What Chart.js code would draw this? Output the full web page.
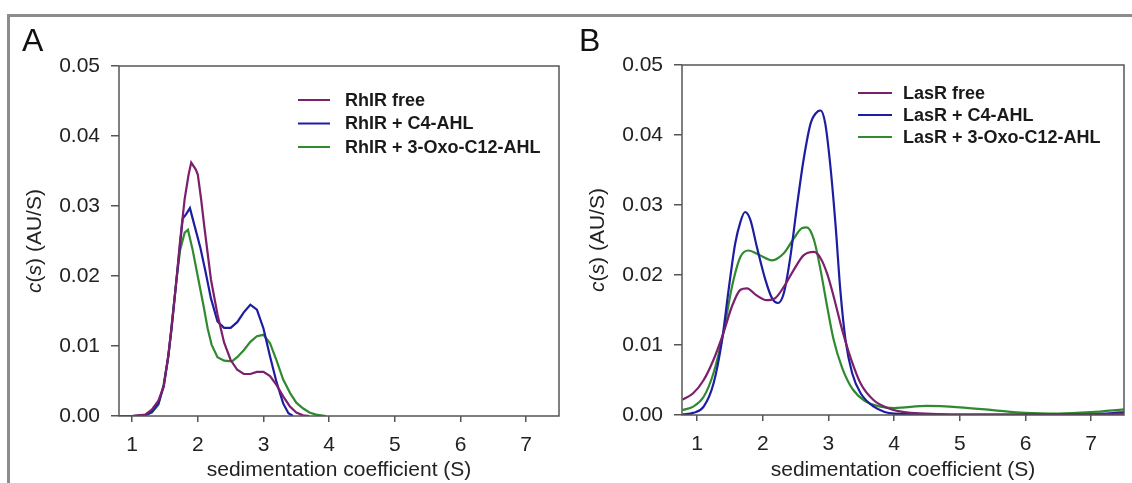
<!DOCTYPE html>
<html>
<head>
<meta charset="utf-8">
<script src="https://cdn.jsdelivr.net/npm/chart.js@4.4.1/dist/chart.umd.min.js"></script>
<style>
  html, body { margin: 0; padding: 0; background: #fff; }
  #wrap { position: relative; width: 1132px; height: 483px; overflow: hidden; background: #fff; }
  #frame { position: absolute; left: 7px; top: 14px; width: 1130px; height: 480px;
           border-top: 3px solid #8c8c8c; border-left: 3px solid #8c8c8c; }
  .panel { position: absolute; top: 0; }
  .tag { position: absolute; top: 24px; font: 32px 'Liberation Sans', Arial, sans-serif; line-height: 32px; color: #111; }
</style>
</head>
<body>
<div id="wrap">
  <div id="frame"></div>
  <canvas id="chartA" class="panel" width="566" height="483" style="left:0px"></canvas>
  <canvas id="chartB" class="panel" width="566" height="483" style="left:566px"></canvas>
  <div class="tag" style="left:22px">A</div>
  <div class="tag" style="left:579px">B</div>
</div>
<script>
// tick labels
const xTickLabels = ['1', '2', '3', '4', '5', '6', '7'];
const yTickLabels = ['0.00', '0.01', '0.02', '0.03', '0.04', '0.05'];
const xTitle = 'sedimentation coefficient (S)';

// panel A: RhIR
const labelsA = ['RhIR free', 'RhIR + C4-AHL', 'RhIR + 3-Oxo-C12-AHL'];
const rhlFreeX = [0.8, 1.0, 1.2, 1.3, 1.4, 1.48, 1.55, 1.6, 1.67, 1.73, 1.8, 1.86, 1.9, 1.97, 2.0, 2.05, 2.1, 2.2, 2.3, 2.4, 2.5, 2.6, 2.7, 2.8, 2.9, 3.0, 3.1, 3.2, 3.3, 3.4, 3.5, 3.6, 3.7];
const rhlFreeY = [0, 0, 0.0002, 0.0009, 0.0022, 0.0042, 0.0085, 0.0128, 0.019, 0.025, 0.031, 0.0345, 0.0362, 0.0352, 0.0345, 0.031, 0.027, 0.0195, 0.0145, 0.0105, 0.008, 0.0066, 0.006, 0.006, 0.0063, 0.0063, 0.0057, 0.0044, 0.0028, 0.0014, 0.0005, 0.0001, 0];
const rhlC4X = [0.8, 1.0, 1.2, 1.3, 1.4, 1.48, 1.55, 1.6, 1.67, 1.73, 1.77, 1.82, 1.88, 1.95, 2.04, 2.12, 2.2, 2.3, 2.4, 2.5, 2.6, 2.7, 2.8, 2.9, 3.0, 3.1, 3.2, 3.3, 3.38, 3.45];
const rhlC4Y = [0, 0, 0.0001, 0.0006, 0.0018, 0.0042, 0.0085, 0.0125, 0.019, 0.0245, 0.0282, 0.0288, 0.0297, 0.0272, 0.024, 0.0205, 0.0168, 0.0135, 0.0126, 0.0126, 0.0134, 0.0148, 0.0159, 0.0152, 0.0125, 0.0085, 0.0048, 0.0018, 0.0004, 0];
const rhlOxoX = [0.8, 1.0, 1.2, 1.3, 1.4, 1.48, 1.55, 1.6, 1.67, 1.73, 1.8, 1.85, 1.92, 1.98, 2.09, 2.15, 2.21, 2.3, 2.4, 2.52, 2.6, 2.7, 2.8, 2.9, 3.0, 3.1, 3.2, 3.3, 3.41, 3.5, 3.6, 3.7, 3.8, 3.95];
const rhlOxoY = [0, 0, 0.0001, 0.0005, 0.0016, 0.0045, 0.0085, 0.0125, 0.019, 0.0237, 0.0262, 0.0266, 0.0238, 0.0209, 0.0156, 0.0125, 0.0102, 0.0084, 0.0079, 0.0078, 0.0084, 0.0094, 0.0106, 0.0114, 0.0116, 0.0104, 0.0079, 0.0052, 0.0032, 0.0019, 0.0011, 0.0005, 0.0002, 0];

// panel B: LasR
const labelsB = ['LasR free', 'LasR + C4-AHL', 'LasR + 3-Oxo-C12-AHL'];
const lasFreeX = [0.78, 0.94, 1.1, 1.25, 1.4, 1.53, 1.66, 1.76, 1.89, 2.06, 2.19, 2.32, 2.47, 2.62, 2.78, 2.88, 2.98, 3.08, 3.21, 3.34, 3.49, 3.69, 3.9, 4.25, 5.0, 6.0, 7.0, 7.5];
const lasFreeY = [0.0022, 0.0031, 0.005, 0.0079, 0.0117, 0.0155, 0.0179, 0.0181, 0.0172, 0.0164, 0.0167, 0.0183, 0.0207, 0.0228, 0.0233, 0.0224, 0.0202, 0.0169, 0.0121, 0.0081, 0.0045, 0.0021, 0.001, 0.0003, 0.0001, 0.0001, 0.0001, 0.0002];
const lasC4X = [0.78, 0.94, 1.1, 1.25, 1.38, 1.48, 1.58, 1.66, 1.73, 1.81, 1.91, 2.04, 2.14, 2.23, 2.32, 2.42, 2.52, 2.62, 2.73, 2.84, 2.88, 2.95, 3.03, 3.11, 3.18, 3.26, 3.36, 3.49, 3.69, 4.0, 5.0, 6.0, 7.0, 7.5];
const lasC4Y = [0.0001, 0.0003, 0.0012, 0.0045, 0.0107, 0.0179, 0.0245, 0.0276, 0.029, 0.0279, 0.024, 0.0193, 0.0167, 0.016, 0.0174, 0.0226, 0.0298, 0.0364, 0.0417, 0.0434, 0.0435, 0.0417, 0.0355, 0.0269, 0.0179, 0.0107, 0.006, 0.0031, 0.0012, 0.0002, 0, 0, 0.0001, 0.0004];
const lasOxoX = [0.78, 0.94, 1.1, 1.25, 1.4, 1.53, 1.66, 1.78, 1.94, 2.14, 2.32, 2.47, 2.6, 2.67, 2.78, 2.88, 2.98, 3.08, 3.21, 3.36, 3.54, 3.79, 4.0, 4.5, 5.0, 5.5, 6.0, 6.5, 7.0, 7.5];
const lasOxoY = [0.0007, 0.0012, 0.0026, 0.006, 0.0117, 0.0183, 0.0226, 0.0235, 0.0229, 0.0221, 0.0231, 0.0252, 0.0267, 0.0268, 0.025, 0.0207, 0.0155, 0.0107, 0.0067, 0.0038, 0.0021, 0.0012, 0.001, 0.0013, 0.0011, 0.0007, 0.0003, 0.0002, 0.0004, 0.0008];

const colors = ['#7c1f6c', '#1d1da3', '#2f8a30'];
const axisColor = '#555';
const fontFamily = "'Liberation Sans', Arial, sans-serif";
const axisFont = 21;
Chart.defaults.font.family = fontFamily;
Chart.defaults.color = '#222';

const pts = (xs, ys) => xs.map((x, i) => ({ x: x, y: ys[i] }));

// box around the plot area (all four sides)
const boxPlugin = {
  id: 'plotBox',
  afterDraw(chart) {
    const a = chart.chartArea, ctx = chart.ctx;
    ctx.save();
    ctx.strokeStyle = axisColor;
    ctx.lineWidth = 1.5;
    ctx.strokeRect(a.left, a.top, a.right - a.left, a.bottom - a.top);
    ctx.restore();
  }
};

// rotated y title with italic c and s
const yTitlePlugin = {
  id: 'yTitleItalic',
  afterDraw(chart) {
    const ctx = chart.ctx, a = chart.chartArea;
    const parts = [['c', true], ['(', false], ['s', true], [') (AU/S)', false]];
    ctx.save();
    ctx.translate(a.left - 84, (a.top + a.bottom) / 2);
    ctx.rotate(-Math.PI / 2);
    ctx.fillStyle = '#222';
    ctx.textBaseline = 'middle';
    let total = 0;
    parts.forEach(p => { ctx.font = (p[1] ? 'italic ' : '') + axisFont + 'px ' + fontFamily; total += ctx.measureText(p[0]).width; });
    let x = -total / 2;
    parts.forEach(p => {
      ctx.font = (p[1] ? 'italic ' : '') + axisFont + 'px ' + fontFamily;
      ctx.fillText(p[0], x, 0);
      x += ctx.measureText(p[0]).width;
    });
    ctx.restore();
  }
};

// line-sample legend inside plot area
const legendPlugin = {
  id: 'lineLegend',
  afterDraw(chart, args, opts) {
    const ctx = chart.ctx;
    ctx.save();
    ctx.font = 'bold 18px ' + fontFamily;
    ctx.textBaseline = 'middle';
    chart.data.datasets.forEach((ds, i) => {
      const y = opts.y + i * opts.rowH;
      ctx.strokeStyle = ds.borderColor;
      ctx.lineWidth = 2;
      ctx.beginPath();
      ctx.moveTo(opts.x, y);
      ctx.lineTo(opts.x + opts.lineLen, y);
      ctx.stroke();
      ctx.fillStyle = '#1a1a1a';
      ctx.fillText(ds.label, opts.x + opts.lineLen + opts.gap, y + 1);
    });
    ctx.restore();
  }
};

function makePanel(id, labels, series, smooth, area, legend) {
  const ctx = document.getElementById(id).getContext('2d');
  return new Chart(ctx, {
    type: 'line',
    data: {
      datasets: series.map((s, i) => ({
        label: labels[i],
        data: s,
        borderColor: colors[i],
        borderWidth: 2.2,
        pointRadius: 0,
        fill: false,
        tension: smooth ? 0.4 : 0,
        cubicInterpolationMode: smooth ? 'monotone' : 'default'
      }))
    },
    options: {
      responsive: false,
      animation: false,
      layout: { padding: { left: 0, top: area.top, right: 566 - area.right, bottom: 0 } },
      plugins: {
        legend: { display: false },
        tooltip: { enabled: false },
        lineLegend: legend
      },
      scales: {
        x: {
          type: 'linear',
          min: area.xMin,
          max: 7.5,
          afterFit: (s) => { s.height = 483 - area.bottom; },
          border: { display: false },
          grid: { drawOnChartArea: false, color: axisColor, tickLength: 6, lineWidth: 1.5 },
          ticks: {
            stepSize: 1,
            includeBounds: false,
            padding: 11,
            font: { size: axisFont },
            callback: (v) => xTickLabels.includes(String(v)) ? String(v) : ''
          },
          title: { display: true, text: xTitle, font: { size: axisFont }, padding: { top: 0, bottom: 0 } }
        },
        y: {
          min: 0,
          max: 0.05,
          afterFit: (s) => { s.width = area.left; },
          border: { display: false },
          grid: { drawOnChartArea: false, color: axisColor, tickLength: 8, lineWidth: 1.5 },
          ticks: {
            stepSize: 0.01,
            padding: 11,
            font: { size: axisFont },
            callback: (v) => yTickLabels[Math.round(v * 100)]
          }
        }
      }
    },
    plugins: [boxPlugin, yTitlePlugin, legendPlugin]
  });
}

makePanel('chartA', labelsA,
  [pts(rhlFreeX, rhlFreeY), pts(rhlC4X, rhlC4Y), pts(rhlOxoX, rhlOxoY)], false,
  { left: 119, top: 66, right: 559, bottom: 416, xMin: 0.8 },
  { x: 298, y: 100, rowH: 23.5, lineLen: 32, gap: 15 });

makePanel('chartB', labelsB,
  [pts(lasFreeX, lasFreeY), pts(lasC4X, lasC4Y), pts(lasOxoX, lasOxoY)], true,
  { left: 116, top: 65, right: 558, bottom: 415, xMin: 0.77 },
  { x: 292, y: 93, rowH: 22, lineLen: 34, gap: 11 });
</script>
</body>
</html>
